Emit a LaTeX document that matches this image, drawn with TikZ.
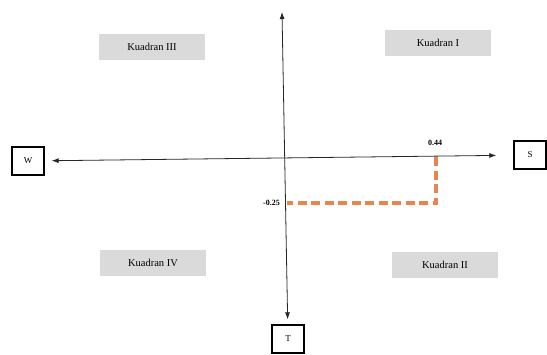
\documentclass[tikz,border=0pt]{standalone}
\usepackage{fontspec}
\setmainfont{Liberation Serif}
\usetikzlibrary{arrows.meta}
\definecolor{quadgray}{HTML}{DADADA}
\definecolor{pathorange}{HTML}{E8844C}
\tikzset{
  quadbox/.style={fill=quadgray, draw=none, minimum width=106pt, minimum height=26pt, inner sep=0pt, font=\fontsize{10.5}{12}\selectfont},
  dirbox/.style={draw=black, line width=1.3pt, minimum width=32pt, minimum height=28pt, inner sep=0pt, font=\fontsize{9}{10}\selectfont},
  axisline/.style={draw=black!85, line width=0.8pt, {Latex[length=7pt,width=5pt]}-{Latex[length=7pt,width=5pt]}},
  valpath/.style={draw=pathorange, line width=3.2pt, dash pattern=on 9pt off 4.5pt},
  vallabel/.style={font=\fontsize{8}{9}\selectfont\bfseries, inner sep=1pt}
}
\begin{document}
\begin{tikzpicture}[x=1pt,y=-1pt]
  \useasboundingbox (0,0) rectangle (547,354);
  % quadrant labels
  \node[quadbox] (q3) at (152,47) {Kuadran III};
  \node[quadbox] (q1) at (438,43) {Kuadran I};
  \node[quadbox] (q4) at (153,263) {Kuadran IV};
  \node[quadbox] (q2) at (445,265) {Kuadran II};
  % direction boxes
  \node[dirbox] (W) at (28,161) {W};
  \node[dirbox] (S) at (530,155) {S};
  \node[dirbox] (T) at (288,339) {T};
  \coordinate (top) at (282,12);
  % axes
  \draw[axisline, shorten <=7pt, shorten >=17pt] (W) -- (S);
  \draw[axisline, shorten >=5pt] (top) -- (T);
  % position of the result
  \coordinate (px) at (436,157);
  \coordinate (py) at (287,203);
  \draw[valpath] (px) |- (py);
  \node[vallabel] (lx) at (435,143) {0.44};
  \node[vallabel, anchor=east] (ly) at (281,203) {-0.25};
\end{tikzpicture}
\end{document}
